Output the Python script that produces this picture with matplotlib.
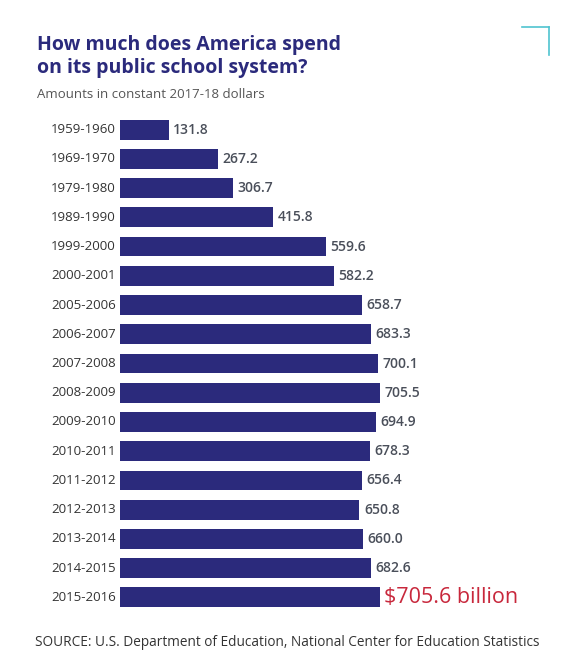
import matplotlib
matplotlib.use("Agg")
import matplotlib.pyplot as plt
from matplotlib.lines import Line2D

years = ["1959-1960","1969-1970","1979-1980","1989-1990","1999-2000","2000-2001",
         "2005-2006","2006-2007","2007-2008","2008-2009","2009-2010","2010-2011",
         "2011-2012","2012-2013","2013-2014","2014-2015","2015-2016"]
values = [131.8,267.2,306.7,415.8,559.6,582.2,658.7,683.3,700.1,705.5,694.9,678.3,
          656.4,650.8,660.0,682.6,705.6]
labels = [f"{v:.1f}" for v in values[:-1]] + ["$705.6 billion"]

W, H = 574, 670
fig = plt.figure(figsize=(W/100, H/100), dpi=100)
fig.patch.set_facecolor("white")
navy = "#2b2a7c"
plt.rcParams['font.family'] = ["Open Sans", 'DejaVu Sans']

ax = fig.add_axes([120/W, 1-612/H, 440/W, (612-115)/H])
n = len(years)
pos = list(range(n))
ax.barh(pos, values, height=0.68, color=navy)
ax.set_xlim(0, 440/0.368)
ax.set_ylim(n-0.5, -0.5)
ax.axis("off")
for i, (v, lab) in enumerate(zip(values, labels)):
    if i == n-1:
        ax.text(v+12, i, lab, va="center", ha="left", fontsize=15.5, color="#c8283c")
    else:
        ax.text(v+12, i, lab, va="center", ha="left", fontsize=10, color="#4a4f5a",
                fontweight="semibold")
    ax.text(-12, i, years[i], va="center", ha="right", fontsize=9.5, color="#333333",
            fontweight="medium")

fig.text(37/W, 1-45/H, "How much does America spend", fontsize=14, fontweight="bold",
         color=navy, va="center")
fig.text(37/W, 1-68/H, "on its public school system?", fontsize=14, fontweight="bold",
         color=navy, va="center")
fig.text(37/W, 1-94/H, "Amounts in constant 2017-18 dollars", fontsize=9.5, color="#555555", va="center")
fig.text(35/W, 1-642/H, "SOURCE: U.S. Department of Education, National Center for Education Statistics",
         fontsize=9.8, color="#333333", va="center")

teal = "#4fc3d0"
fig.add_artist(Line2D([522/W, 549/W], [1-27/H, 1-27/H], color=teal, lw=1.2))
fig.add_artist(Line2D([549/W, 549/W], [1-27/H, 1-55/H], color=teal, lw=1.2))

fig.savefig("out.png", dpi=100)
